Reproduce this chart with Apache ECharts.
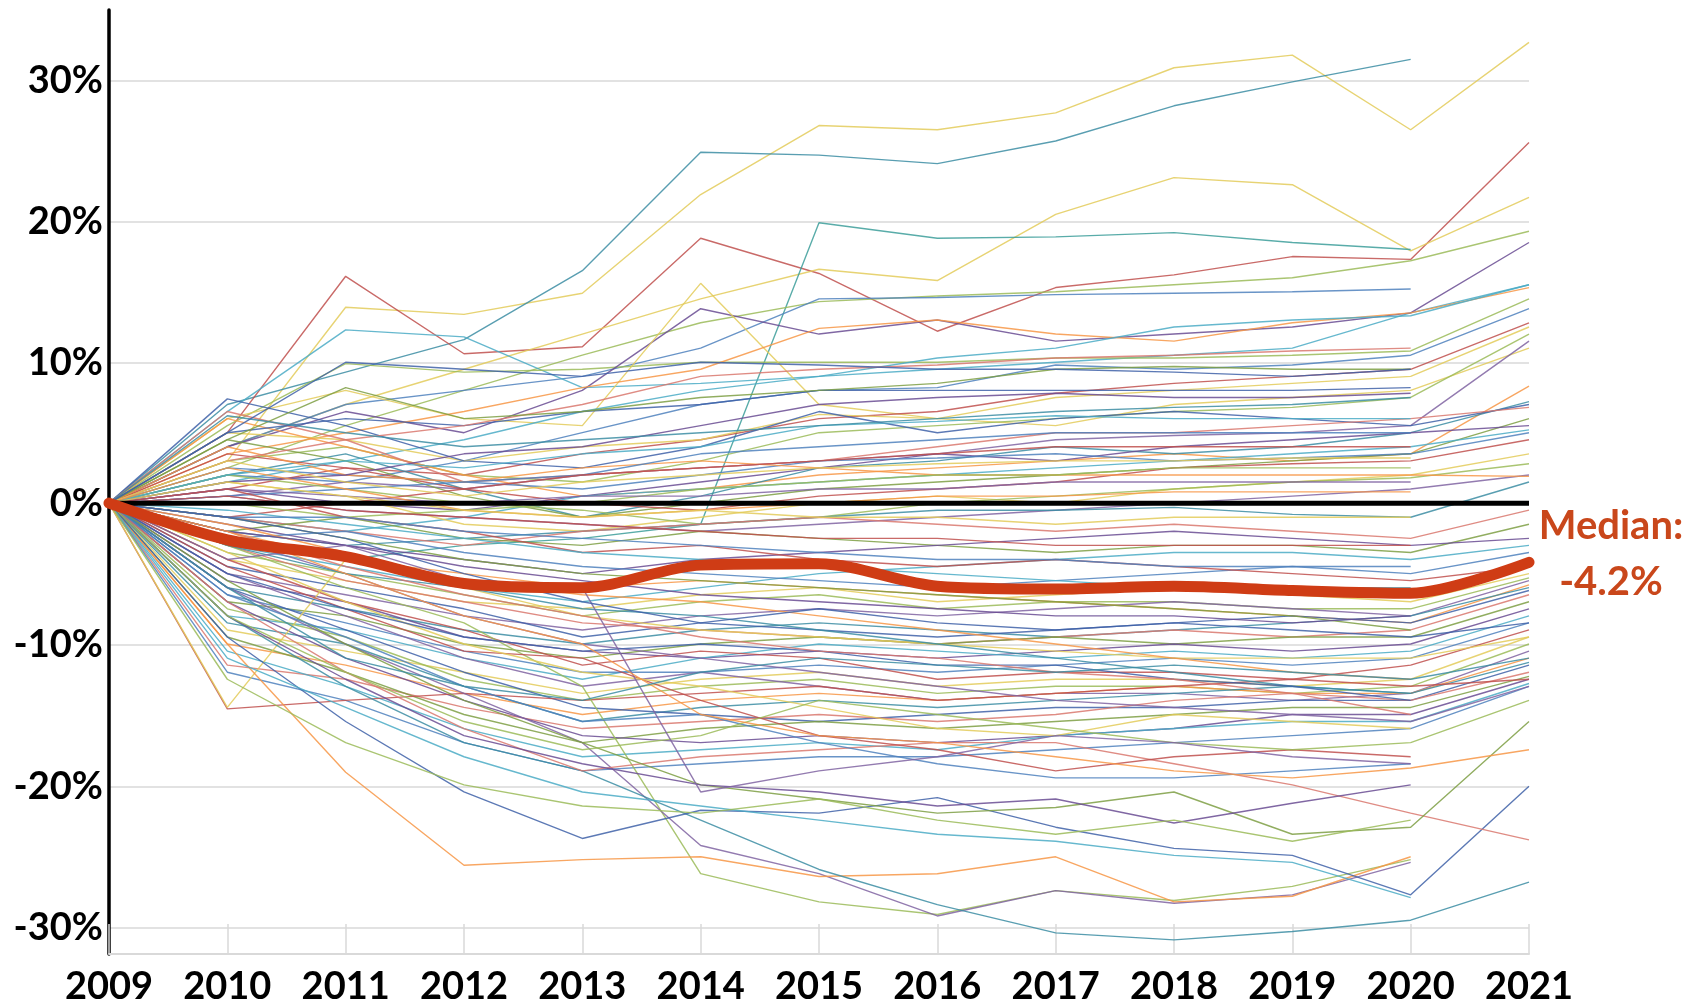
<!DOCTYPE html>
<html lang="en">
<head>
  <meta charset="UTF-8">
  <title>Median change 2009-2021</title>
  <script src="https://cdn.jsdelivr.net/npm/echarts@6/dist/echarts.min.js"></script>
  <style>
    html, body { margin: 0; padding: 0; background: #fff; }
    #chart { width: 1706px; height: 1006px; }
  </style>
</head>
<body>
<div id="chart"></div>
<script>
  const years = ['2009', '2010', '2011', '2012', '2013', '2014', '2015', '2016', '2017', '2018', '2019', '2020', '2021'];
  const yTicks = [-30, -20, -10, 0, 10, 20, 30];

  const median = [0, -2.6, -3.8, -5.7, -6.0, -4.4, -4.3, -5.9, -6.1, -5.9, -6.2, -6.4, -4.2];
  const zeroLine = [0, 0, 0, 0, 0, 0, 0, 0, 0, 0, 0, 0, 0];

  // one row per entity, values in % for 2009..2021 (null = no value)
  const lines = [
    [0, 3.0, 13.9, 13.4, 14.9, 21.9, 26.8, 26.5, 27.7, 30.9, 31.8, 26.5, 32.7],
    [0, 7.0, 9.3, 11.6, 16.5, 24.9, 24.7, 24.1, 25.7, 28.2, 29.9, 31.5, null],
    [0, 5.0, 16.1, 10.6, 11.1, 18.8, 16.3, 12.2, 15.3, 16.2, 17.5, 17.3, 25.6],
    [0, 4.0, 7.0, 9.5, 12.0, 14.5, 16.6, 15.8, 20.5, 23.1, 22.6, 17.9, 21.7],
    [0, -3.0, -4.0, -3.0, -2.5, -1.5, 19.9, 18.8, 18.9, 19.2, 18.5, 18.0, null],
    [0, 2.5, 5.5, 8.0, 10.5, 12.8, 14.3, 14.7, 15.0, 15.5, 16.0, 17.2, 19.3],
    [0, 4.0, 7.0, 8.0, 9.0, 11.0, 14.5, 14.6, 14.8, 14.9, 15.0, 15.2, null],
    [0, 6.5, 12.3, 11.8, 8.2, 8.5, 9.0, 9.5, 10.0, 10.5, 11.0, 13.5, 15.5],
    [0, 5.5, 9.9, 9.3, 9.5, 10.0, 10.0, 10.0, 10.3, 10.3, 10.5, 10.8, 14.5],
    [0, 4.0, 6.5, 5.0, 8.0, 13.8, 12.0, 13.0, 11.5, 12.0, 12.5, 13.5, 18.5],
    [0, 6.0, 8.0, 6.0, 5.5, 15.6, 7.0, 6.0, 7.5, 8.0, 8.5, 9.0, 12.5],
    [0, 3.5, 5.0, 6.5, 8.2, 9.5, 12.4, 13.0, 12.0, 11.5, 12.8, 13.5, 15.3],
    [0, 1.5, 3.0, 4.5, 6.5, 8.0, 9.0, 10.3, 11.0, 12.5, 13.0, 13.3, 15.5],
    [0, 2.0, 1.5, 3.0, 5.0, 7.0, 8.0, 8.2, 9.8, 9.5, 9.8, 10.5, 13.8],
    [0, 1.0, 2.5, 2.0, 3.5, 4.5, 6.0, 6.5, 7.8, 8.5, 9.0, 9.5, 12.8],
    [0, 5.0, 4.5, 3.0, 4.0, 4.5, 6.3, 6.0, 5.5, 7.0, 7.5, 8.0, 11.0],
    [0, 3.0, 4.0, 2.0, 1.5, 3.0, 5.0, 5.5, 6.0, 6.5, 6.8, 7.5, 12.0],
    [0, 0.5, 1.5, 1.0, 2.0, 2.5, 3.0, 3.5, 4.5, 4.8, 5.0, 5.5, 11.5],
    [0, 6.0, 4.0, 2.0, 0.5, 1.0, 2.0, 2.5, 3.0, 3.5, 3.0, 3.5, 8.3],
    [0, 2.0, 3.5, 1.0, -1.0, 0.5, 2.5, 3.0, 4.0, 3.5, 4.0, 5.0, 7.2],
    [0, 7.4, 5.5, 3.0, 2.5, 4.0, 6.5, 5.0, 6.0, 6.5, 6.0, 5.5, 7.0],
    [0, 6.5, 4.5, 1.5, 2.0, 2.5, 3.0, 4.0, 5.0, 5.0, 5.5, 6.0, 6.8],
    [0, 4.5, 3.0, 0.5, -1.0, 0.0, 1.0, 1.5, 2.0, 2.5, 3.0, 3.5, 6.0],
    [0, 1.0, 0.0, -0.5, 0.5, 1.5, 2.5, 3.5, 3.0, 4.0, 4.5, 5.0, 5.5],
    [0, -1.0, -2.0, -1.0, 0.5, 1.0, 1.5, 2.0, 2.5, 3.0, 3.5, 4.0, 5.2],
    [0, 2.5, 2.0, 1.5, 1.0, 2.0, 3.0, 3.2, 3.5, 3.0, 3.2, 3.5, 5.0],
    [0, 3.5, 2.5, 1.0, 0.0, -0.5, 0.5, 1.0, 1.5, 2.5, 2.8, 3.0, 4.5],
    [0, 1.5, 0.5, -1.5, -2.0, -1.0, 0.0, 0.5, 0.0, 1.0, 1.5, 2.0, 3.5],
    [0, 2.0, 1.0, 0.0, -0.5, -1.5, -1.0, 0.0, 0.5, 1.0, 1.5, 1.8, 2.8],
    [0, 0.5, -0.5, -1.0, -1.5, -2.0, -1.5, -1.0, -0.5, 0.0, 0.5, 1.0, 2.0],
    [0, 4.0, 2.0, 1.5, 2.5, 3.0, 2.5, 2.0, 2.0, 2.0, 2.0, 2.0, 1.9],
    [0, -2.0, -3.0, -2.5, -2.0, -1.5, -1.0, -0.5, -0.5, -0.3, -0.8, -1.0, 1.5],
    [0, 5.0, 6.0, 5.5, 6.5, 7.0, 8.0, 8.0, 8.0, 8.0, 8.0, 8.2, null],
    [0, 3.0, 4.5, 5.5, 7.0, 9.0, 9.5, 9.8, 10.3, 10.5, 10.8, 11.0, null],
    [0, 4.5, 8.2, 6.0, 6.5, 7.5, 8.0, 8.5, 9.5, 9.7, 9.5, 9.5, null],
    [0, 1.5, 2.0, 3.5, 4.0, 5.5, 7.0, 7.5, 7.8, 7.5, 7.5, 7.8, null],
    [0, 2.0, 3.0, 2.5, 3.5, 4.0, 5.5, 5.8, 6.2, 6.0, 6.0, 6.0, null],
    [0, 0.5, 1.0, 1.5, 2.0, 3.5, 4.0, 4.5, 5.0, 5.0, 5.0, 5.0, null],
    [0, -1.0, 0.0, 1.0, 2.0, 2.5, 3.0, 3.5, 4.0, 4.0, 4.0, 4.0, null],
    [0, 3.0, 1.5, 0.5, 1.5, 2.0, 2.5, 2.8, 3.0, 3.0, 3.2, 3.2, null],
    [0, 0.0, -1.0, -0.5, 0.0, 1.0, 1.5, 2.0, 2.0, 2.5, 2.5, 2.5, null],
    [0, 1.0, 0.5, 0.0, 0.5, 0.5, 1.0, 1.0, 1.5, 1.5, 1.5, 1.5, null],
    [0, 2.5, 1.0, -0.5, -1.0, -0.5, 0.0, 0.5, 0.5, 0.8, 0.8, 0.8, null],
    [0, 6.2, 5.0, 4.0, 4.5, 5.0, 5.5, 6.0, 6.5, 6.8, 7.0, 7.5, null],
    [0, 5.0, 10.0, 9.5, 9.0, 10.0, 9.8, 9.5, 9.5, 9.3, 9.0, 9.5, null],
    [0, -1.0, -2.0, -3.0, -2.0, -1.5, -1.0, -1.5, -2.0, -1.5, -2.0, -2.5, -0.5],
    [0, -2.0, -1.0, -2.5, -3.0, -2.0, -2.5, -3.0, -3.5, -3.0, -3.0, -3.5, -1.5],
    [0, -1.5, -3.0, -4.0, -5.0, -4.0, -3.5, -3.0, -2.5, -2.0, -2.5, -3.0, -2.5],
    [0, -3.0, -4.5, -6.0, -7.0, -6.0, -5.0, -4.5, -4.0, -3.5, -3.5, -4.0, -3.0],
    [0, -2.5, -2.0, -3.5, -4.5, -5.0, -5.5, -6.0, -5.5, -5.0, -4.5, -5.0, -3.5],
    [0, 1.0, -1.0, -2.0, -3.5, -3.0, -4.0, -4.5, -4.0, -4.5, -5.0, -5.5, -4.5],
    [0, -4.0, -5.5, -7.0, -7.5, -6.5, -6.0, -7.0, -6.5, -6.0, -6.5, -7.0, -5.0],
    [0, -3.5, -5.0, -6.5, -8.0, -7.0, -6.5, -7.5, -7.0, -7.0, -7.5, -7.5, -5.3],
    [0, -5.0, -6.5, -8.0, -9.0, -8.0, -7.5, -8.0, -7.5, -7.0, -7.5, -8.0, -5.5],
    [0, -2.0, -4.0, -5.0, -6.0, -5.5, -6.0, -6.5, -7.0, -7.5, -8.0, -8.5, -5.8],
    [0, -6.0, -7.5, -9.0, -10.0, -9.0, -8.5, -9.0, -9.5, -9.0, -8.5, -8.0, -6.0],
    [0, -4.5, -6.0, -7.5, -9.5, -8.5, -9.0, -9.5, -9.0, -8.5, -8.0, -8.5, -6.2],
    [0, -3.0, -5.5, -7.0, -8.5, -9.0, -9.5, -10.0, -9.5, -9.0, -9.5, -9.0, -6.5],
    [0, -7.0, -8.0, -10.0, -11.0, -10.0, -9.5, -10.0, -9.5, -10.0, -9.5, -9.5, -7.0],
    [0, -5.5, -7.0, -9.5, -10.5, -11.0, -10.5, -11.0, -10.5, -10.0, -10.5, -10.0, -7.5],
    [0, -8.0, -9.0, -11.0, -12.5, -11.0, -10.0, -10.5, -11.0, -10.5, -11.0, -10.5, -8.0],
    [0, -6.5, -8.5, -10.5, -12.0, -12.0, -11.5, -12.0, -11.5, -11.0, -11.5, -11.0, -8.5],
    [0, -4.0, -7.0, -9.0, -11.5, -10.5, -11.0, -12.5, -12.0, -12.0, -12.5, -11.5, -9.0],
    [0, -9.0, -10.5, -12.0, -13.5, -12.5, -12.0, -13.0, -12.5, -12.5, -13.0, -12.5, -9.5],
    [0, -7.5, -9.5, -12.5, -14.0, -13.0, -12.5, -13.5, -13.0, -13.0, -13.5, -13.0, -10.0],
    [0, -5.0, -8.0, -11.0, -13.0, -12.0, -13.0, -14.0, -13.5, -13.5, -14.0, -13.5, -10.5],
    [0, -10.0, -11.5, -13.5, -15.0, -14.0, -13.5, -14.0, -13.5, -13.0, -13.5, -13.5, -11.0],
    [0, -8.5, -10.0, -13.0, -15.5, -14.5, -14.0, -14.5, -14.0, -13.5, -13.0, -13.5, -11.3],
    [0, -6.0, -9.0, -12.0, -14.5, -15.0, -15.5, -15.0, -14.5, -14.5, -14.0, -14.0, -11.5],
    [0, -11.5, -12.5, -14.5, -16.0, -15.5, -15.0, -15.5, -15.0, -14.0, -13.5, -14.0, -12.0],
    [0, -9.5, -12.0, -15.0, -17.0, -16.0, -15.5, -16.0, -15.5, -15.0, -14.5, -14.5, -12.3],
    [0, -7.0, -11.0, -14.0, -16.5, -17.0, -16.5, -17.0, -16.5, -16.0, -15.0, -15.0, -12.5],
    [0, -10.5, -13.0, -16.0, -18.0, -17.5, -17.0, -17.5, -16.5, -16.0, -15.5, -15.5, -12.8],
    [0, -12.0, -14.0, -17.0, -19.0, -18.5, -18.0, -18.0, -17.5, -17.0, -16.5, -16.0, -13.0],
    [0, -14.6, -14.0, -13.5, -14.0, -13.5, -13.0, -14.0, -13.5, -13.0, -12.5, -13.0, -12.5],
    [0, -14.5, -4.0, -6.0, -8.0, -9.0, -9.5, -10.0, -10.5, -11.0, -11.0, -11.0, -9.5],
    [0, -3.0, -6.0, -8.5, -13.0, -26.3, -28.3, -29.2, -27.5, -28.2, -27.2, -25.3, null],
    [0, -6.0, -10.0, -13.5, -17.0, -24.3, -26.3, -29.3, -27.5, -28.4, -27.8, -25.5, null],
    [0, -10.0, -19.1, -25.7, -25.3, -25.1, -26.5, -26.3, -25.1, -28.3, -27.9, -25.1, null],
    [0, -8.0, -13.0, -17.0, -19.0, -22.5, -26.0, -28.5, -30.5, -31.0, -30.4, -29.6, -26.9],
    [0, -9.5, -15.5, -20.5, -23.8, -21.8, -22.0, -20.9, -23.0, -24.5, -25.0, -27.8, -20.1],
    [0, -7.0, -12.0, -16.0, -19.0, -18.0, -17.5, -17.0, -17.0, -18.5, -20.0, -22.0, -23.9],
    [0, -5.5, -10.0, -14.0, -17.0, -20.0, -21.0, -22.0, -21.6, -20.5, -23.5, -23.0, -15.5],
    [0, -8.0, -12.5, -16.5, -18.5, -20.0, -20.5, -21.5, -21.0, -22.7, -21.3, -20.0, null],
    [0, -11.0, -14.5, -18.0, -20.5, -21.5, -22.5, -23.5, -24.0, -25.0, -25.5, -28.0, null],
    [0, -6.5, -9.5, -13.0, -15.5, -15.0, -17.0, -18.5, -19.5, -19.5, -19.0, -18.5, null],
    [0, -4.5, -7.5, -10.5, -11.0, -14.0, -16.5, -17.5, -19.0, -18.0, -17.5, -18.0, null],
    [0, -3.5, -7.0, -10.0, -12.0, -13.0, -14.5, -16.0, -16.5, -15.0, -15.5, -16.0, null],
    [0, -8.0, -12.0, -15.5, -17.5, -16.5, -14.0, -15.0, -16.0, -17.0, -17.5, -17.0, -14.0],
    [0, -2.5, -5.0, -8.0, -10.0, -11.0, -12.0, -13.0, -14.0, -14.5, -15.0, -15.5, -13.0],
    [0, -1.5, -3.5, -5.5, -6.5, -7.0, -8.0, -9.0, -10.0, -11.0, -12.0, -12.5, null],
    [0, -3.0, -5.0, -6.0, -7.5, -8.0, -9.0, -10.0, -11.0, -12.0, -13.0, -13.5, null],
    [0, -5.0, -7.5, -9.5, -10.5, -10.0, -10.5, -11.5, -11.5, -12.5, -13.0, -14.0, null],
    [0, -2.0, -4.5, -6.5, -8.0, -9.5, -10.5, -11.0, -12.0, -12.5, -13.5, -15.0, null],
    [0, -1.0, -2.5, -4.0, -5.0, -5.5, -6.0, -6.5, -7.0, -7.5, -8.0, -9.0, null],
    [0, -2.0, -3.0, -4.5, -5.5, -6.5, -7.0, -7.5, -8.0, -8.0, -8.5, -8.0, null],
    [0, -0.5, -1.5, -2.5, -3.5, -4.0, -4.5, -5.0, -5.5, -6.0, -6.0, -6.0, null],
    [0, -1.0, -1.0, -2.0, -2.5, -3.0, -3.5, -4.0, -4.0, -4.5, -4.5, -4.5, null],
    [0, 0.5, -0.5, -1.0, -1.5, -2.0, -2.5, -2.5, -3.0, -3.0, -3.0, -3.0, null],
    [0, 1.5, 0.5, -0.5, -1.0, -0.5, -1.0, -1.0, -1.5, -1.0, -1.0, -1.0, null],
    [0, -12.5, -17.0, -20.0, -21.5, -22.0, -21.0, -22.5, -23.5, -22.5, -24.0, -22.5, null],
    [0, -4.0, -3.0, -5.5, -6.0, -20.5, -19.0, -18.0, -16.5, -17.0, -18.0, -18.5, null],
    [0, -2.0, -5.0, -8.0, -10.0, -15.0, -16.5, -17.0, -18.0, -19.0, -19.5, -18.8, -17.5],
    [0, -6.0, -11.0, -13.0, -14.0, -12.0, -11.0, -11.5, -12.0, -11.5, -12.0, -12.5, -11.0],
    [0, -1.0, -2.5, -5.0, -7.0, -8.5, -7.5, -8.5, -9.0, -8.5, -9.0, -9.5, -8.5]
  ];

  // colours of the first, most visible lines; the rest cycle through the palette
  const leadColors = ['#E3CB5A', '#3C8DA3', '#C0504D', '#E3CB5A', '#3C9E9A', '#9BBB59', '#4F81BD',
    '#4BACC6', '#9BBB59', '#6A4C93', '#E3CB5A', '#F79646'];
  const palette = ['#4BACC6', '#4F81BD', '#C0504D', '#E3CB5A', '#9BBB59', '#8064A2', '#F79646',
    '#3C8DA3', '#4062A8', '#D9786F', '#7E9F44', '#6A4C93'];

  const labelFont = {fontFamily: 'Lato', fontWeight: 'bold', fontSize: 38, color: '#000'};

  const series = lines.map(function (row, i) {
    return {
      type: 'line',
      data: row,
      symbol: 'none',
      silent: true,
      z: 2,
      lineStyle: {
        width: 1.4,
        color: i < leadColors.length ? leadColors[i] : palette[i % palette.length],
        opacity: 0.85
      }
    };
  });

  series.push({
    type: 'line',
    data: zeroLine,
    symbol: 'none',
    silent: true,
    z: 4,
    lineStyle: {width: 5, color: '#000'}
  });

  series.push({
    type: 'line',
    data: median,
    symbol: 'none',
    smooth: 0.3,
    silent: true,
    z: 5,
    lineStyle: {width: 11, color: '#CF3C15', cap: 'round'},
    endLabel: {
      show: true,
      formatter: function (p) { return 'Median:\n' + p.value + '%'; },
      fontFamily: 'Lato',
      fontWeight: 'bold',
      fontSize: 40,
      lineHeight: 56,
      color: '#C9471B',
      align: 'center',
      offset: [74, -8]
    }
  });

  echarts.init(document.getElementById('chart')).setOption({
    animation: false,
    grid: [
      {left: 109, right: 177, top: 10, bottom: 49},
      {left: 109, right: 177, top: 80.5, bottom: 78.5}
    ],
    xAxis: [{
      type: 'category',
      data: years,
      boundaryGap: false,
      axisLine: {onZero: false, lineStyle: {color: '#d9d9d9', width: 2}},
      axisTick: {inside: true, length: 30, lineStyle: {color: '#d9d9d9', width: 1.5}},
      axisLabel: Object.assign({margin: 14}, labelFont),
      splitLine: {show: false}
    }, {
      type: 'value',
      gridIndex: 1,
      min: 0,
      max: 1,
      show: false
    }],
    yAxis: [{
      type: 'value',
      min: -32,
      max: 35,
      axisLine: {show: true, onZero: false, lineStyle: {color: '#000', width: 3.5}},
      axisTick: {show: false},
      axisLabel: {show: false},
      splitLine: {show: false}
    }, {
      type: 'value',
      gridIndex: 1,
      min: yTicks[0],
      max: yTicks[yTicks.length - 1],
      interval: 10,
      axisLine: {show: false},
      axisTick: {show: false},
      axisLabel: Object.assign({margin: 6, formatter: '{value}%'}, labelFont),
      splitLine: {lineStyle: {color: '#d9d9d9', width: 1.5}}
    }],
    series: series
  });
</script>
</body>
</html>
